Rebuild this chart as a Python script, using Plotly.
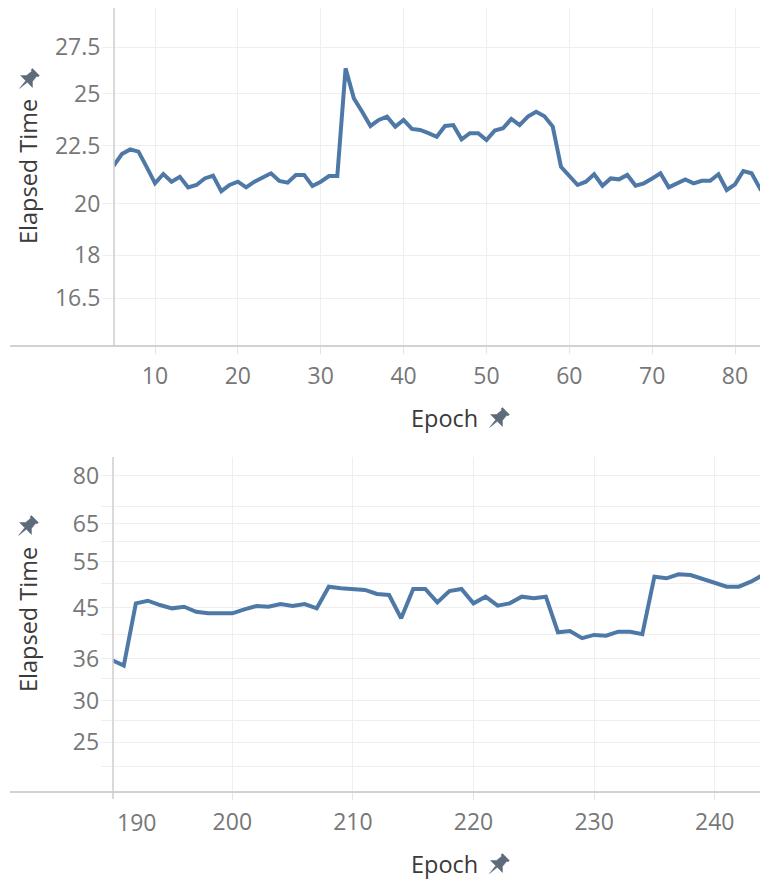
import math
import plotly.graph_objects as go

# ---------------- data ----------------
top_epochs = list(range(5, 85))
top_elapsed = [
    21.60, 22.12, 22.33, 22.23, 21.54, 20.84, 21.24, 20.91, 21.12, 20.67,
    20.77, 21.05, 21.17, 20.51, 20.77, 20.91, 20.67, 20.91, 21.09, 21.27,
    20.94, 20.87, 21.20, 21.20, 20.73, 20.91, 21.15, 21.15, 26.33, 24.77,
    24.11, 23.42, 23.71, 23.87, 23.39, 23.71, 23.28, 23.23, 23.08, 22.91,
    23.42, 23.46, 22.79, 23.08, 23.08, 22.76, 23.20, 23.31, 23.76, 23.46,
    23.87, 24.11, 23.89, 23.39, 21.55, 21.17, 20.77, 20.91, 21.23, 20.74,
    21.05, 21.01, 21.20, 20.74, 20.84, 21.05, 21.27, 20.67, 20.84, 21.01,
    20.84, 20.95, 20.95, 21.23, 20.56, 20.80, 21.37, 21.27, 20.63, 20.98,
]

bottom_epochs = list(range(190, 246))
bottom_elapsed = [
    35.81, 34.93, 45.86, 46.39, 45.52, 44.87, 45.18, 44.21, 43.90, 43.90,
    43.90, 44.68, 45.32, 45.18, 45.72, 45.32, 45.72, 44.87, 49.32, 48.98,
    48.76, 48.62, 47.78, 47.57, 42.95, 48.83, 48.83, 46.06, 48.40, 48.83,
    45.86, 47.22, 45.39, 45.86, 47.22, 46.89, 47.22, 40.42, 40.65, 39.38,
    39.95, 39.81, 40.52, 40.52, 40.07, 51.52, 51.16, 52.07, 51.91, 51.00,
    50.19, 49.32, 49.32, 50.41, 51.91, 51.23,
]

top_x_ticks = [10, 20, 30, 40, 50, 60, 70, 80]
top_y_ticks = [16.5, 18, 20, 22.5, 25, 27.5]
top_y_labels = ["16.5", "18", "20", "22.5", "25", "27.5"]

bottom_x_ticks = [190, 200, 210, 220, 230, 240]
bottom_x_labels = ["", "200", "210", "220", "230", "240"]
bottom_y_grid = [22.5, 25, 27.5, 30, 33, 36, 40, 45, 50, 55, 60, 65, 70, 80]
bottom_y_labels = ["", "25", "", "30", "", "36", "", "45", "", "55", "", "65", "", "80"]

y_title = "Elapsed Time"
x_title = "Epoch"

# ---------------- styling ----------------
OFF = 8                      # page body margin of the html page
W, H = 768 - OFF, 884 - OFF
LINE = "#4e79a7"
GRID = "#efefef"
AXIS = "#d2d2d2"
TICKFONT = dict(family="Open Sans", size=23, color="#777777")
TITLEFONT = dict(family="Open Sans", size=23.5, color="#3a3a3a")
PIN = "#5e6b7a"


def px(x):
    """screen x (window pixels) -> paper fraction"""
    return (x - OFF) / W


def py(y):
    """screen y (window pixels) -> paper fraction"""
    return 1 - (y - OFF) / H


fig = go.Figure()
fig.add_trace(go.Scatter(x=top_epochs, y=top_elapsed, mode="lines",
                         line=dict(color=LINE, width=4), xaxis="x", yaxis="y",
                         showlegend=False, hoverinfo="x+y"))
fig.add_trace(go.Scatter(x=bottom_epochs, y=bottom_elapsed, mode="lines",
                         line=dict(color=LINE, width=4), xaxis="x2", yaxis="y2",
                         showlegend=False, hoverinfo="x+y"))

common_x = dict(showgrid=True, gridcolor=GRID, gridwidth=1, zeroline=False,
                showline=False, ticks="outside", ticklen=7, tickcolor="#e4e4e4",
                tickfont=TICKFONT, automargin=False, ticklabelstandoff=2)
common_y = dict(type="log", showgrid=True, gridcolor=GRID, gridwidth=1, zeroline=False,
                showline=False, ticks="outside", ticklen=11, tickcolor=GRID,
                tickfont=TICKFONT, automargin=False, ticklabelstandoff=-3)

fig.update_layout(
    width=W, height=H, margin=dict(l=0, r=0, t=0, b=0),
    template="none", plot_bgcolor="white", paper_bgcolor="white",
    showlegend=False,
    xaxis=dict(common_x, domain=[px(114), 1], range=[5.05, 83.98],
               tickmode="array", tickvals=top_x_ticks, anchor="y"),
    yaxis=dict(common_y, domain=[py(346), 1],
               range=[math.log10(14.97), 1.47378],
               tickmode="array", tickvals=top_y_ticks, ticktext=top_y_labels, anchor="x"),
    xaxis2=dict(common_x, domain=[px(112.7), 1], range=[190.08, 244.42],
                tickmode="array", tickvals=bottom_x_ticks, ticktext=bottom_x_labels, anchor="y2"),
    yaxis2=dict(common_y, domain=[py(792), py(457)],
                range=[1.3035, 1.9391],
                tickmode="array", tickvals=bottom_y_grid, ticktext=bottom_y_labels, anchor="x2"),
)

shapes = [
    dict(type="line", xref="paper", yref="paper", x0=px(10), x1=1, y0=py(346), y1=py(346),
         line=dict(color=AXIS, width=2)),
    dict(type="line", xref="paper", yref="paper", x0=px(114), x1=px(114), y0=1, y1=py(346),
         line=dict(color="#cdcdcd", width=1.5)),
    dict(type="line", xref="paper", yref="paper", x0=px(10), x1=1, y0=py(792), y1=py(792),
         line=dict(color=AXIS, width=2)),
    dict(type="line", xref="paper", yref="paper", x0=px(113), x1=px(113), y0=py(457), y1=py(799),
         line=dict(color="#cdcdcd", width=1.5)),
]


def pin_path(scale=1.0):
    pts = [(-3.5, -8), (3.5, -8), (3.5, -6.5), (2.5, -6.5), (3, -1.5), (6, 1.5),
           (0.8, 1.5), (0, 8.5), (-0.8, 1.5), (-6, 1.5), (-3, -1.5), (-2.5, -6.5),
           (-3.5, -6.5)]
    c = s = math.sqrt(0.5)
    out = []
    for x, y in pts:
        xr = (x * c - y * s) * scale
        yr = (x * s + y * c) * scale
        out.append((xr, -yr))
    return "M " + " L ".join(f"{a:.2f},{b:.2f}" for a, b in out) + " Z"


for cx, cy in [(498, 419), (498, 865), (28, 80), (27, 527)]:
    shapes.append(dict(type="path", xref="paper", yref="paper",
                       xsizemode="pixel", ysizemode="pixel",
                       xanchor=px(cx), yanchor=py(cy), path=pin_path(1.4),
                       fillcolor=PIN, line=dict(color=PIN, width=0.5)))

fig.update_layout(shapes=shapes)

annotations = [
    dict(text=x_title, xref="paper", yref="paper", x=px(444), y=py(418),
         showarrow=False, xanchor="center", yanchor="middle", font=TITLEFONT),
    dict(text=x_title, xref="paper", yref="paper", x=px(444), y=py(864),
         showarrow=False, xanchor="center", yanchor="middle", font=TITLEFONT),
    dict(text=y_title, xref="paper", yref="paper", x=px(28), y=py(172),
         showarrow=False, xanchor="center", yanchor="middle", textangle=-90, font=TITLEFONT),
    dict(text=y_title, xref="paper", yref="paper", x=px(28), y=py(620),
         showarrow=False, xanchor="center", yanchor="middle", textangle=-90, font=TITLEFONT),
    # first bottom tick label, pushed inside the pane as in the original
    dict(text=str(bottom_x_ticks[0]), xref="paper", yref="paper", x=px(115), y=py(822),
         showarrow=False, xanchor="left", yanchor="middle", font=TICKFONT),
]
fig.update_layout(annotations=annotations)

fig.write_html("out.html")
